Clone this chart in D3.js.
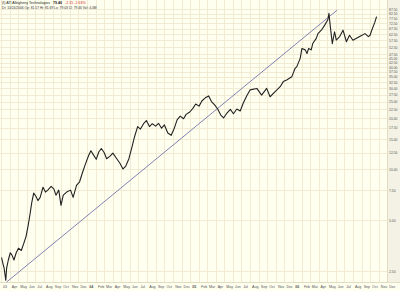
<!DOCTYPE html>
<html>
<head>
<meta charset="utf-8">
<script src="https://cdn.jsdelivr.net/npm/d3@7"></script>
<style>
  html, body { margin: 0; padding: 0; background: #fffff0; }
  svg { display: block; font-family: "Liberation Sans", Arial, sans-serif; }
</style>
</head>
<body>
<script>
// ATI daily closes (roughly two per month)
const dates = [
  '2003-03-03', '2003-03-07', '2003-03-12', '2003-03-18', '2003-03-21', '2003-03-27',
  '2003-04-03', '2003-04-09', '2003-04-16', '2003-04-24', '2003-05-02', '2003-05-12',
  '2003-05-20', '2003-05-29', '2003-06-05', '2003-06-12', '2003-06-18', '2003-06-25',
  '2003-07-03', '2003-07-10', '2003-07-18', '2003-07-28', '2003-08-06', '2003-08-14',
  '2003-08-26', '2003-09-05', '2003-09-12', '2003-09-22', '2003-09-30', '2003-10-08',
  '2003-10-20', '2003-11-03', '2003-11-12', '2003-11-24', '2003-12-05', '2003-12-15',
  '2003-12-24', '2004-01-06', '2004-01-14', '2004-01-22', '2004-02-02', '2004-02-11',
  '2004-02-20', '2004-03-01', '2004-03-10', '2004-03-22', '2004-04-01', '2004-04-13',
  '2004-04-26', '2004-05-07', '2004-05-17', '2004-05-28', '2004-06-08', '2004-06-17',
  '2004-06-28', '2004-07-08', '2004-07-19', '2004-07-29', '2004-08-09', '2004-08-19',
  '2004-08-31', '2004-09-10', '2004-09-21', '2004-10-01', '2004-10-13', '2004-10-25',
  '2004-11-04', '2004-11-15', '2004-11-26', '2004-12-08', '2004-12-17', '2004-12-30',
  '2005-01-10', '2005-01-20', '2005-02-01', '2005-02-11', '2005-02-23', '2005-03-07',
  '2005-03-17', '2005-03-29', '2005-04-08', '2005-04-19', '2005-04-29', '2005-05-11',
  '2005-05-23', '2005-06-03', '2005-06-15', '2005-06-27', '2005-07-08', '2005-07-20',
  '2005-08-01', '2005-08-25', '2005-09-11', '2005-09-29', '2005-10-11', '2005-10-29',
  '2005-11-16', '2005-11-27', '2005-12-09', '2005-12-27', '2006-01-08', '2006-01-14',
  '2006-01-26', '2006-02-01', '2006-02-13', '2006-02-19', '2006-02-25', '2006-03-06',
  '2006-03-12', '2006-03-24', '2006-03-30', '2006-04-11', '2006-04-23', '2006-05-04',
  '2006-05-08', '2006-05-13', '2006-05-20', '2006-05-28', '2006-06-03', '2006-06-15',
  '2006-06-27', '2006-07-09', '2006-07-20', '2006-08-01', '2006-08-25', '2006-09-13',
  '2006-09-25', '2006-10-01', '2006-10-07', '2006-10-18', '2006-10-24'
];

const closes = [
  3.0, 2.8, 2.6, 2.2, 2.6, 2.9,
  3.2, 3.1, 2.9, 3.2, 3.4, 3.3,
  3.6, 4.0, 4.6, 5.4, 6.3, 7.2,
  6.9, 6.5, 6.8, 7.8, 7.3, 7.5,
  7.9, 7.6, 7.0, 7.5, 6.1, 7.0,
  7.3, 7.5, 6.8, 8.0, 8.4, 9.5,
  10.5, 12.0, 12.8, 12.2, 11.4, 12.6,
  13.2, 12.5, 11.5, 11.9, 12.4, 11.6,
  10.8, 10.0, 10.4, 11.5, 13.5, 15.5,
  17.8, 17.2, 18.5, 19.3, 17.8, 18.5,
  17.9, 18.6, 17.4, 18.2, 16.3, 15.8,
  17.2, 19.5, 20.5, 19.8, 21.0, 21.7,
  22.8, 24.2, 23.5, 25.2, 26.3, 27.0,
  25.0, 23.8, 22.6, 20.8, 20.0, 21.4,
  22.5, 21.2, 22.6, 22.0, 24.5, 27.0,
  29.3, 29.9, 27.3, 29.9, 26.7, 28.6,
  30.6, 32.8, 33.5, 35.0, 39.3, 40.2,
  45.0, 51.5, 50.5, 48.1, 51.5, 50.5,
  55.3, 59.0, 63.0, 66.0, 70.7, 76.0,
  83.0, 69.0, 55.0, 64.6, 57.7, 60.5,
  66.0, 56.4, 61.6, 57.6, 60.5, 63.0,
  60.5, 61.6, 66.0, 73.6, 79.46
];

// trend line drawn on the chart: start and end (date, price)
const trendDates = ['2003-03-21', '2006-06-06'];
const trendPrices = [2.15, 86.7];

const priceTicks = [2.5, 5, 7.5, 10, 12.5, 15, 17.5, 20, 22.5, 25, 27.5, 30, 32.5, 35,
  37.5, 40, 42.5, 45, 47.5, 52.5, 57.5, 62.5, 67.5, 72.5, 77.5, 82.5, 87.5];

const title = '(I) ATI Allegheny Technologies';
const lastPrice = '79.46';
const change = '-2.15  -2.63%';
const infoLine = 'Dt: 10/24/2006  Op: 81.57  Hi: 81.69  Lo: 79.03  Cl: 79.46  Vol: 4.0M';

const width = 400;
const height = 291;
const plotRight = 387;
const plotBottom = 282;

const parse = d3.timeParse('%Y-%m-%d');
const data = dates.map((d, i) => ({ date: parse(d), close: closes[i] }));

const svg = d3.select('body').append('svg')
  .attr('width', width)
  .attr('height', height);

const x = d3.scaleTime()
  .domain([parse('2003-03-01'), parse('2007-01-01')])
  .range([1, 396]);

const y = d3.scaleLog()
  .domain([2.15, 99.5])
  .range([plotBottom, 0]);

// backgrounds
svg.append('rect')
  .attr('width', width).attr('height', height)
  .attr('fill', '#fffff0');

svg.append('rect')
  .attr('x', plotRight).attr('y', 0)
  .attr('width', width - plotRight).attr('height', plotBottom)
  .attr('fill', '#f4f2e4');

// grid
const months = d3.timeMonth.range(parse('2003-03-01'), parse('2007-01-01'));

svg.append('g')
  .selectAll('line')
  .data(months)
  .join('line')
  .attr('x1', d => Math.round(x(d)) + 0.5)
  .attr('x2', d => Math.round(x(d)) + 0.5)
  .attr('y1', 0)
  .attr('y2', plotBottom)
  .attr('stroke', '#f0ebd2')
  .attr('stroke-width', 1);

svg.append('g')
  .selectAll('line')
  .data(priceTicks)
  .join('line')
  .attr('x1', 0)
  .attr('x2', plotRight)
  .attr('y1', d => Math.round(y(d)) + 0.5)
  .attr('y2', d => Math.round(y(d)) + 0.5)
  .attr('stroke', '#f0ebd2')
  .attr('stroke-width', 1);

svg.append('line')
  .attr('x1', 0).attr('x2', width)
  .attr('y1', plotBottom + 0.5).attr('y2', plotBottom + 0.5)
  .attr('stroke', '#e2dcc0');

svg.append('line')
  .attr('x1', plotRight + 0.5).attr('x2', plotRight + 0.5)
  .attr('y1', 0).attr('y2', plotBottom)
  .attr('stroke', '#e2dcc0');

// axes
const monthFormat = d => (d.getMonth() === 0 || +d === +months[0])
  ? d3.timeFormat('%y')(d)
  : d3.timeFormat('%b')(d);

const xAxis = g => g
  .attr('transform', `translate(0, ${plotBottom})`)
  .call(d3.axisBottom(x)
    .tickValues(months)
    .tickSize(0)
    .tickFormat(monthFormat));

svg.append('g')
  .call(xAxis)
  .call(g => g.select('.domain').remove())
  .call(g => g.selectAll('text')
    .attr('text-anchor', 'start')
    .attr('x', 1.5)
    .attr('y', 3.5)
    .attr('dy', '0.71em')
    .attr('fill', '#555')
    .attr('font-size', 3.6)
    .attr('font-weight', d => d.getMonth() === 0 ? 'bold' : 'normal'));

const yAxis = g => g
  .attr('transform', `translate(${plotRight}, 0)`)
  .call(d3.axisRight(y)
    .tickValues(priceTicks)
    .tickSize(0)
    .tickFormat(d3.format('.2f')));

svg.append('g')
  .call(yAxis)
  .call(g => g.select('.domain').remove())
  .call(g => g.selectAll('text')
    .attr('x', 2)
    .attr('fill', '#555')
    .attr('font-size', 3.4));

// trend line
svg.append('line')
  .attr('x1', x(parse(trendDates[0])))
  .attr('y1', y(trendPrices[0]))
  .attr('x2', x(parse(trendDates[1])))
  .attr('y2', y(trendPrices[1]))
  .attr('stroke', '#7474aa')
  .attr('stroke-width', 0.9);

// price
const line = d3.line()
  .x(d => x(d.date))
  .y(d => y(d.close));

svg.append('path')
  .datum(data)
  .attr('fill', 'none')
  .attr('stroke', '#222')
  .attr('stroke-width', 1.1)
  .attr('stroke-linejoin', 'round')
  .attr('d', line);

// header
const head = svg.append('text')
  .attr('x', 2)
  .attr('y', 4.2)
  .attr('font-size', 3.6)
  .attr('fill', '#222');

head.append('tspan').text(title);
head.append('tspan').attr('dx', 3).attr('font-weight', 'bold').text(lastPrice);
head.append('tspan').attr('dx', 3).attr('fill', '#d42020').text(change);

svg.append('text')
  .attr('x', 2)
  .attr('y', 9.2)
  .attr('font-size', 3.3)
  .attr('fill', '#333')
  .text(infoLine);
</script>
</body>
</html>
